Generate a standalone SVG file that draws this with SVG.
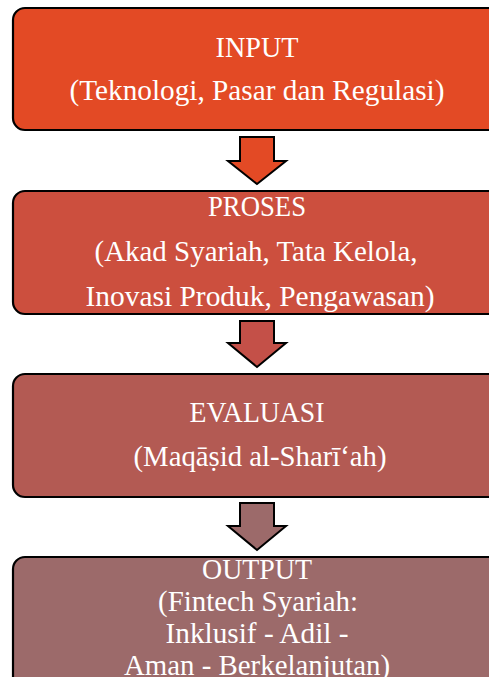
<svg xmlns="http://www.w3.org/2000/svg" width="489" height="677" viewBox="0 0 489 677">
<style>
.box{stroke:#000;stroke-width:2.2}
.arr{stroke:#000;stroke-width:2;stroke-linejoin:miter}
text{font-family:"Liberation Serif","DejaVu Serif",serif;font-size:28.5px;fill:#fff;text-anchor:middle}
</style>
<rect width="489" height="677" fill="#fff"/>
<g id="input">
<rect class="box" x="13" y="8" width="490" height="122" rx="12" fill="#E34A25"/>
<text x="257" y="57" textLength="83" lengthAdjust="spacingAndGlyphs">INPUT</text>
<text x="257" y="100" textLength="375" lengthAdjust="spacingAndGlyphs">(Teknologi, Pasar dan Regulasi)</text>
</g>
<g id="proses">
<rect class="box" x="13" y="191" width="490" height="123" rx="12" fill="#CC4F3E"/>
<text x="257" y="216" textLength="98" lengthAdjust="spacingAndGlyphs">PROSES</text>
<text x="256" y="261" textLength="323" lengthAdjust="spacingAndGlyphs">(Akad Syariah, Tata Kelola,</text>
<text x="260" y="306" textLength="349" lengthAdjust="spacingAndGlyphs">Inovasi Produk, Pengawasan)</text>
</g>
<g id="evaluasi">
<rect class="box" x="13" y="374" width="490" height="123" rx="12" fill="#B35A53"/>
<text x="257" y="422" textLength="135" lengthAdjust="spacingAndGlyphs">EVALUASI</text>
<text x="260" y="466" textLength="253" lengthAdjust="spacingAndGlyphs">(Maqāṣid al-Sharī‘ah)</text>
</g>
<g id="output">
<rect class="box" x="13" y="557" width="490" height="140" rx="12" fill="#9C6A6A"/>
<text x="257" y="579" textLength="110" lengthAdjust="spacingAndGlyphs">OUTPUT</text>
<text x="258" y="611" textLength="200" lengthAdjust="spacingAndGlyphs">(Fintech Syariah:</text>
<text x="257" y="643" textLength="183" lengthAdjust="spacingAndGlyphs">Inklusif - Adil -</text>
<text x="257" y="675" textLength="266" lengthAdjust="spacingAndGlyphs">Aman - Berkelanjutan)</text>
</g>
<g id="connectors">
<polygon class="arr" fill="#E34A25" points="240,137 274,137 274,161 286,161 257,184 228,161 240,161"/>
<polygon class="arr" fill="#C45048" points="240,321 274,321 274,343 286,343 257,367 228,343 240,343"/>
<polygon class="arr" fill="#9C6A6A" points="240,503 274,503 274,526 286,526 257,550 228,526 240,526"/>
</g>
</svg>
